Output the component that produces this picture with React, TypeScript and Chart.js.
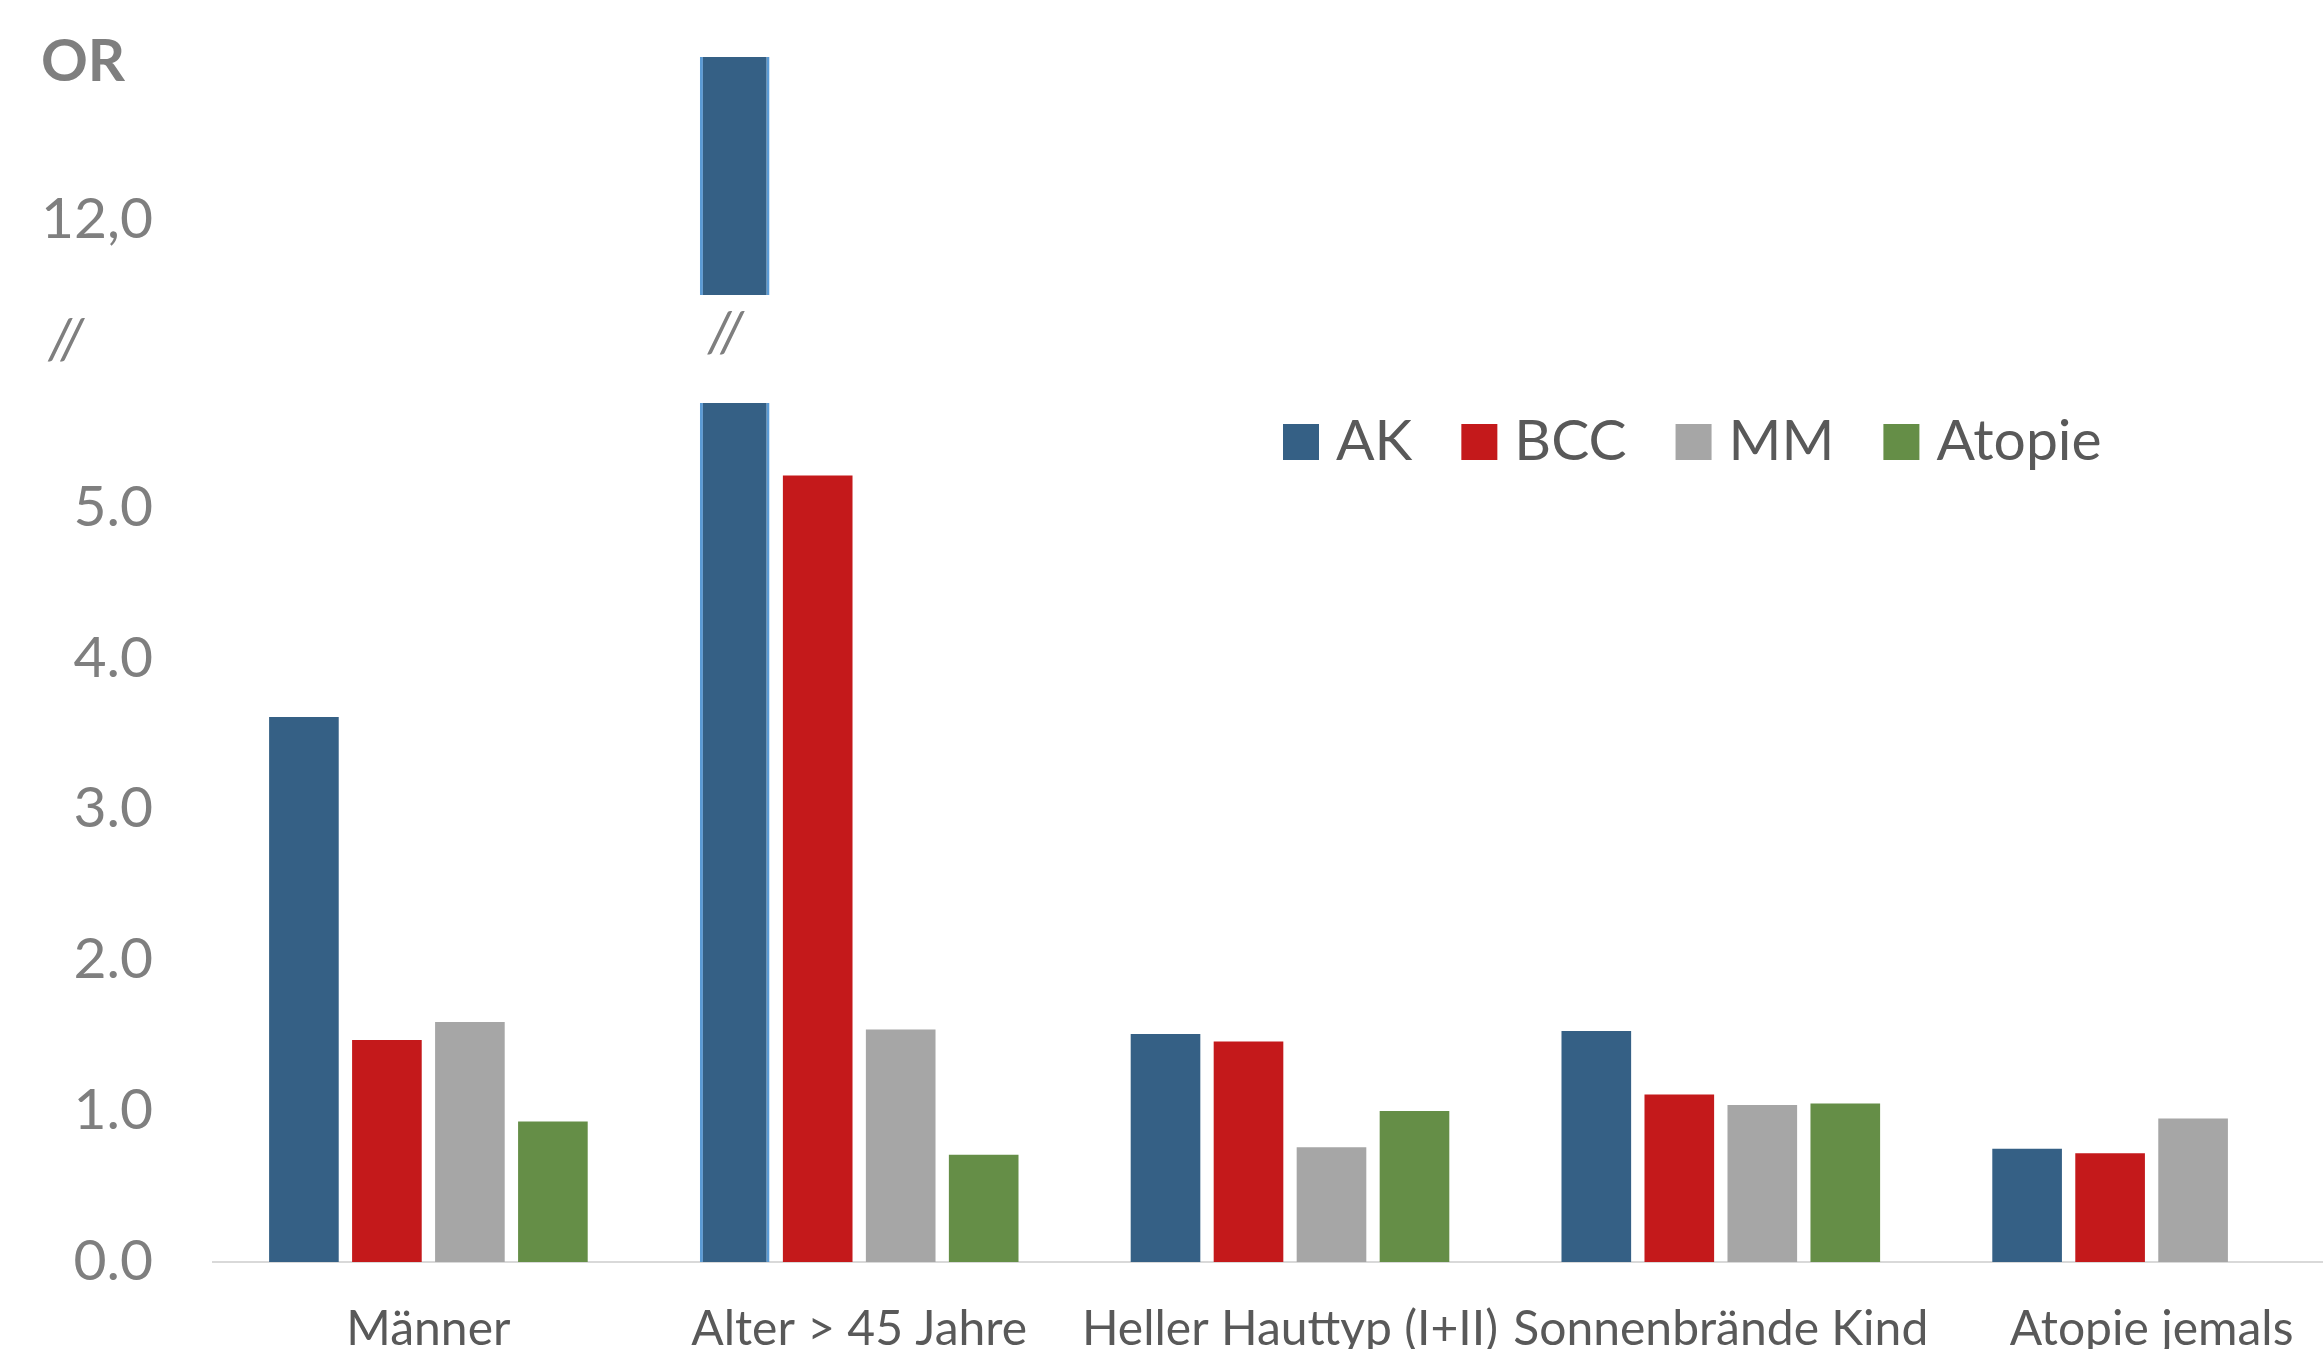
import React, { useEffect, useRef } from "react";
import { Chart, registerables } from "chart.js";

Chart.register(...registerables);

// ---- data ----
const categories = ["Männer", "Alter > 45 Jahre", "Heller Hauttyp (I+II)", "Sonnenbrände Kind", "Atopie jemals"];
const seriesNames = ["AK", "BCC", "MM", "Atopie"];
const akValues = [3.61, 13.08, 1.51, 1.53, 0.75];
const bccValues = [1.47, 5.21, 1.46, 1.11, 0.72];
const mmValues = [1.59, 1.54, 0.76, 1.04, 0.95];
const atopieValues: (number | null)[] = [0.93, 0.71, 1.0, 1.05, null];
const seriesColors = ["#356085", "#C4191B", "#A6A6A6", "#658E47"];

const lowerTicks = [0, 1, 2, 3, 4, 5];
const lowerTickLabels = ["0.0", "1.0", "2.0", "3.0", "4.0", "5.0"];
const lowerRange = [0, 5.69];
const upperTicks = [12];
const upperTickLabels = ["12,0"];
const upperRange = [11.5, 13.08];
const axisTitle = "OR";
const breakMark = "//";

// ---- layout ----
const CANVAS_W = 2367;
const LOWER_H = 1362;
const UPPER_H = 400;
const FONT = "Lato, 'Open Sans', sans-serif";

function makeDatasets() {
  const values = [akValues, bccValues, mmValues, atopieValues];
  return seriesNames.map((name, i) => ({
    label: name,
    data: values[i],
    backgroundColor: seriesColors[i],
    borderColor: i === 0 ? "#5B9BD5" : seriesColors[i],
    borderWidth:
      i === 0
        ? (ctx: any) => (ctx.dataIndex === 1 ? { left: 3, right: 3, top: 0, bottom: 0 } : 0)
        : 0,
    categoryPercentage: 0.7706,
    barPercentage: 0.839,
  }));
}

function makeOptions(range: number[], ticks: number[], labels: string[], showX: boolean, padTop: number, padBottom: number) {
  return {
    responsive: false,
    animation: false as const,
    layout: { padding: { top: padTop, bottom: padBottom, left: 0, right: 0 } },
    plugins: { legend: { display: false }, tooltip: { enabled: false } },
    scales: {
      x: {
        type: "category" as const,
        display: showX,
        offset: true,
        grid: { display: false, drawTicks: false },
        border: { display: true, color: "#D9D9D9", width: 2 },
        ticks: {
          autoSkip: false,
          maxRotation: 0,
          minRotation: 0,
          padding: 39,
          color: "#595959",
          font: { family: FONT, size: 48 },
        },
        afterFit: (s: any) => {
          if (showX) s.height = 100;
          s.paddingLeft = 0;
          s.paddingRight = 0;
        },
      },
      y: {
        type: "linear" as const,
        min: range[0],
        max: range[1],
        grid: { display: false, drawTicks: false },
        border: { display: false },
        afterBuildTicks: (s: any) => {
          s.ticks = ticks.map((v) => ({ value: v }));
        },
        ticks: {
          padding: 60,
          color: "#7F7F7F",
          font: { family: FONT, size: 57 },
          callback: (_v: any, i: number) => labels[i],
        },
        afterFit: (s: any) => {
          s.width = 213;
          s.paddingTop = 0;
          s.paddingBottom = 0;
        },
      },
    },
  };
}

const decorPlugin = {
  id: "decor",
  afterDraw(chart: any) {
    const ctx = chart.ctx;
    ctx.save();
    // axis title
    ctx.fillStyle = "#7F7F7F";
    ctx.font = `bold 58px ${FONT}`;
    ctx.textAlign = "left";
    ctx.textBaseline = "alphabetic";
    ctx.fillText(axisTitle, 41, 81);
    // break marks
    ctx.font = `italic 56px ${FONT}`;
    ctx.textAlign = "center";
    ctx.textBaseline = "middle";
    ctx.fillText(breakMark, 66, 340);
    const bar = chart.getDatasetMeta(0).data[1];
    if (bar) ctx.fillText(breakMark, bar.x - 9, 333);
    // legend
    ctx.font = `57px ${FONT}`;
    ctx.textAlign = "left";
    ctx.textBaseline = "alphabetic";
    let x = 1283;
    const boxTop = 424;
    const box = 36;
    chart.data.datasets.forEach((ds: any) => {
      ctx.fillStyle = ds.backgroundColor;
      ctx.fillRect(x, boxTop, box, box);
      ctx.fillStyle = "#595959";
      const tx = x + box + 17;
      ctx.fillText(ds.label, tx, boxTop + box);
      x = tx + ctx.measureText(ds.label).width + 49;
    });
    ctx.restore();
  },
};

export default function App() {
  const lowerRef = useRef<HTMLCanvasElement>(null);
  const upperRef = useRef<HTMLCanvasElement>(null);

  useEffect(() => {
    const lower = new Chart(lowerRef.current!, {
      type: "bar",
      data: { labels: categories, datasets: makeDatasets() as any },
      options: makeOptions(lowerRange, lowerTicks, lowerTickLabels, true, 403, 0) as any,
      plugins: [decorPlugin],
    });
    const upper = new Chart(upperRef.current!, {
      type: "bar",
      data: { labels: categories, datasets: makeDatasets() as any },
      options: makeOptions(upperRange, upperTicks, upperTickLabels, false, 57, UPPER_H - 295) as any,
    });
    return () => {
      lower.destroy();
      upper.destroy();
    };
  }, []);

  return (
    <div
      style={{
        position: "fixed",
        left: 0,
        top: 0,
        width: 2323,
        height: 1349,
        overflow: "hidden",
        background: "#ffffff",
      }}
    >
      <canvas
        ref={lowerRef}
        width={CANVAS_W}
        height={LOWER_H}
        style={{ position: "absolute", left: 0, top: 0, width: CANVAS_W, height: LOWER_H }}
      />
      <canvas
        ref={upperRef}
        width={CANVAS_W}
        height={UPPER_H}
        style={{ position: "absolute", left: 0, top: 0, width: CANVAS_W, height: UPPER_H }}
      />
    </div>
  );
}
